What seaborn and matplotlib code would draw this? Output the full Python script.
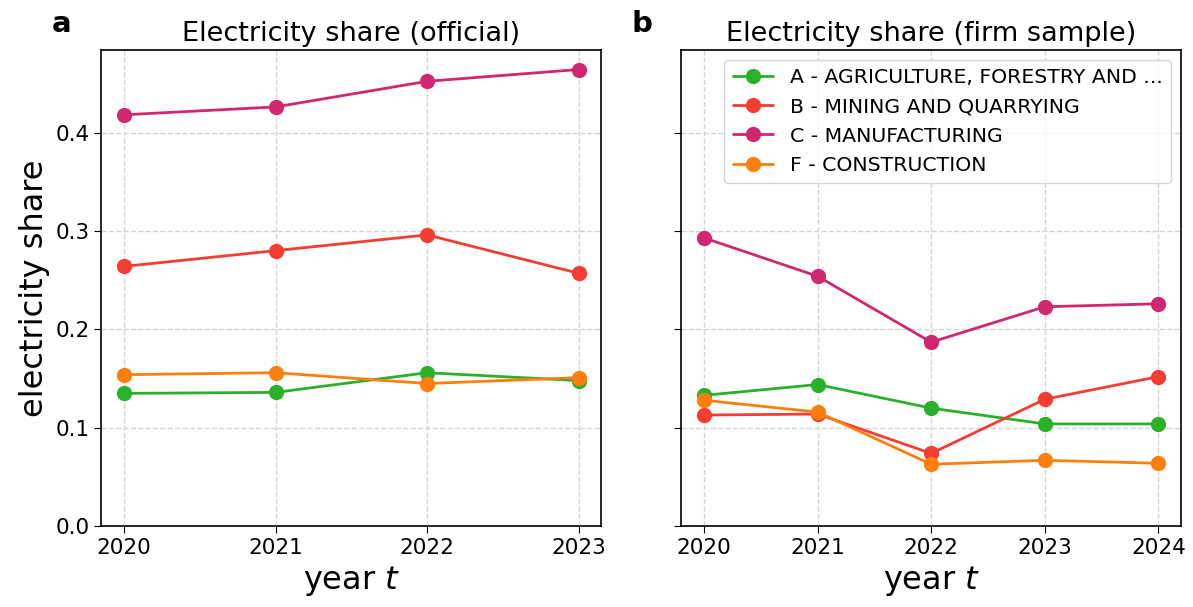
import pandas as pd
import seaborn as sns
import matplotlib.pyplot as plt

# sector labels and colours
sectors = ['A - AGRICULTURE, FORESTRY AND ...', 'B - MINING AND QUARRYING',
           'C - MANUFACTURING', 'F - CONSTRUCTION']
colors = ['#2bb02a', '#f53d32', '#cf2770', '#ff7f0e']

# official statistics
years_official = [2020, 2021, 2022, 2023]
official_A = [0.135, 0.136, 0.156, 0.148]
official_B = [0.264, 0.280, 0.296, 0.257]
official_C = [0.418, 0.426, 0.452, 0.464]
official_F = [0.154, 0.156, 0.145, 0.151]

# firm sample
years_firm = [2020, 2021, 2022, 2023, 2024]
firm_A = [0.133, 0.144, 0.120, 0.104, 0.104]
firm_B = [0.113, 0.114, 0.074, 0.129, 0.152]
firm_C = [0.293, 0.254, 0.187, 0.223, 0.226]
firm_F = [0.128, 0.116, 0.063, 0.067, 0.064]


def to_long(years, series):
    rows = []
    for name, vals in zip(sectors, series):
        for yr, v in zip(years, vals):
            rows.append({'year': yr, 'sector': name, 'share': v})
    return pd.DataFrame(rows)


df_off = to_long(years_official, [official_A, official_B, official_C, official_F])
df_firm = to_long(years_firm, [firm_A, firm_B, firm_C, firm_F])

sns.set_style('ticks', {'text.color': 'black', 'axes.labelcolor': 'black',
                        'xtick.color': 'black', 'ytick.color': 'black',
                        'axes.edgecolor': 'black'})
plt.rcParams['font.family'] = ['DejaVu Sans']

fig, axes = plt.subplots(1, 2, figsize=(11.93, 6.07), dpi=100, sharey=True)
fig.subplots_adjust(left=0.085, right=0.99, top=0.918, bottom=0.133, wspace=0.16)

palette = dict(zip(sectors, colors))
for ax, df, years, title, letter in [
        (axes[0], df_off, years_official, 'Electricity share (official)', 'a'),
        (axes[1], df_firm, years_firm, 'Electricity share (firm sample)', 'b')]:
    sns.lineplot(data=df, x='year', y='share', hue='sector', palette=palette,
                 marker='o', markersize=11, markeredgewidth=0, linewidth=2,
                 ax=ax, legend=(letter == 'b'))
    ax.set_xticks(years)
    ax.set_title(title, fontsize=19.5)
    ax.set_xlabel('year $t$', fontsize=23)
    ax.set_ylabel('electricity share', fontsize=23)
    ax.tick_params(labelsize=15.5, length=5)
    ax.grid(True, linestyle='--', color='#d4d4d4', linewidth=1)
    ax.text(-0.1, 1.025, letter, transform=ax.transAxes, fontsize=21,
            fontweight='bold', va='bottom')
    for s in ax.spines.values():
        s.set_linewidth(1.2)

axes[0].set_ylim(bottom=0)
axes[1].tick_params(labelleft=False)

leg = axes[1].legend(loc='upper right', fontsize=14.7, frameon=True)
leg.set_title(None)

fig.savefig('out.png', dpi=100)
